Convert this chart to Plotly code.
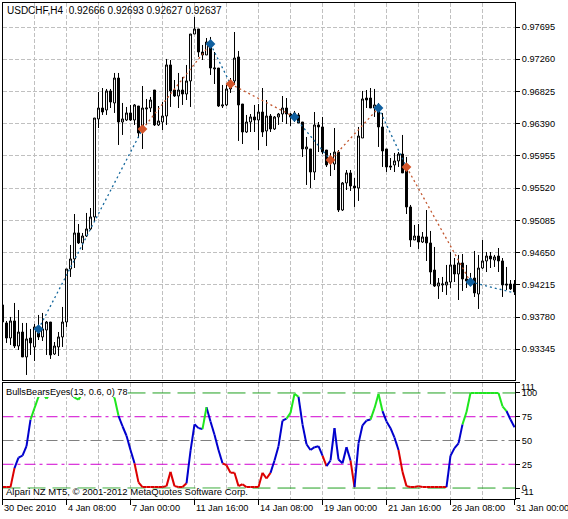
import numpy as np
import plotly.graph_objects as go

W, H = 568, 519

# candle values, in points (price x 100000)
open_pts = [93943,93700,93497,93727,93389,93578,93241,93497,93376,93565,
93511,93605,93713,93281,93376,93511,93713,94429,94564,94915,
94780,94874,94969,95131,96454,96602,96575,96832,96670,97007,
96413,96440,96535,96440,96629,96332,96589,96602,96845,96373,
96413,96494,97183,96845,96764,96845,96791,96967,97601,97669,
97358,97318,97493,97129,97142,96629,96643,96899,96967,97291,
96656,96278,96413,96481,96440,96548,96292,96494,96319,96481,
96521,96602,96521,96535,96508,96413,96049,96049,95738,96373,
96346,96035,95873,95846,96008,95225,95590,95725,95549,95522,
96197,96737,96737,96602,96602,96346,96049,95819,95833,95887,
95981,95806,95266,94820,94874,94793,94861,94780,94415,94199,
94213,94213,94253,94483,94361,94510,94294,94294,94307,94091,
94442,94537,94604,94550,94604,94537,94226,94226,94226]
high_pts = [93970,93727,93781,93970,93875,93700,93700,93619,93686,93808,
93835,93727,93713,93443,93578,93916,94429,94753,95171,95036,
94915,95185,95252,96467,96818,96872,96859,96859,97075,97075,
96670,96616,96643,96656,96629,96899,96724,96751,96845,96629,
96683,97264,97250,96980,97075,97021,97183,97601,97831,97669,
97453,97547,97561,97358,97142,96913,96913,97007,97628,97372,
96656,96508,96521,96643,96656,96872,96710,96521,96494,96535,
96764,96737,96535,96562,96535,96413,96211,96049,96548,96413,
96481,96035,95995,96332,96035,95603,95765,95765,95657,96346,
96832,96845,96872,96859,96670,96535,96049,95927,95995,96008,
96238,95941,95293,95023,95036,94928,95225,94942,94726,94307,
94321,94483,94658,94577,94618,94631,94483,94375,94672,94618,
94820,94658,94658,94618,94712,94577,94456,94280,94280]
low_pts = [93673,93430,93403,93362,93335,93241,92998,93268,93187,93470,
93457,93268,93214,93268,93254,93376,93646,94321,94442,94766,
94685,94861,94955,95077,96332,96508,96508,96602,96535,96103,
96238,96427,96427,96373,96197,96049,96373,96548,96359,96359,
96305,96373,96616,96751,96602,96643,96710,96616,97601,97291,
97250,97318,97048,96926,96616,96602,96629,96805,96913,96157,
96116,96265,96278,96278,96035,96211,96089,96278,96305,96373,
96413,96386,96359,96413,96400,95941,95563,95522,95630,96008,
95981,95806,95684,95765,95198,95212,95495,95482,95266,95347,
96197,96602,96602,96481,96076,95806,95738,95765,95738,95806,
95725,95171,94726,94820,94699,94780,94537,94226,94186,94024,
94118,94078,94172,94253,94010,94132,94172,94199,94051,93889,
94429,94388,94442,94456,94388,94051,94145,94145,94078]
close_pts = [93713,93497,93727,93389,93578,93241,93484,93430,93646,93511,
93619,93713,93268,93389,93511,93713,94429,94564,94915,94780,
94874,94969,95131,96467,96602,96548,96832,96683,97007,96413,
96454,96535,96440,96643,96265,96602,96602,96710,96373,96427,
96494,97183,96832,96764,96845,96791,96967,97601,97669,97358,
97318,97493,97142,97142,96629,96643,96859,96859,97277,96643,
96278,96413,96481,96440,96548,96278,96494,96319,96481,96521,
96602,96521,96481,96467,96400,96049,96076,95738,96373,96346,
96008,95833,95927,96008,95225,95590,95725,95549,95522,96224,
96724,96710,96602,96643,96346,96022,95806,95806,95887,95981,
95725,95266,94820,94874,94793,94861,94780,94388,94199,94240,
94226,94253,94483,94361,94510,94294,94267,94253,94105,94442,
94537,94604,94564,94591,94537,94213,94213,94159,94118]

# swing line: bar index, points, and marker kind
swing_bar = [9, 35, 52, 57, 73, 82, 94, 101, 117, 128]
swing_pts = [93618, 96318, 97466, 96926, 96480, 95900, 96602, 95805, 94253, 94105]

# oscillator values per bar
bbe_values = [1,1,1,21,32,34,44,72,84,96,
100,94,100,100,100,100,100,100,95,93,
100,100,100,100,100,100,100,100,95,76,
65,55,40,26,6,1,1,1,1,1,
1,2,17,2,1,1,5,39,67,63,
62,85,70,56,40,26,24,16,16,2,
4,1,1,1,1,16,10,16,29,44,
71,73,79,99,96,67,46,40,43,44,
34,23,29,63,30,26,43,29,1,47,
66,71,72,84,99,81,70,63,53,40,
17,2,1,1,2,1,1,1,1,1,
1,1,34,42,47,67,80,100,100,100,
100,100,100,100,100,86,81,72,64]

price_ticks = ["0.97695","0.97260","0.96825","0.96390","0.95955","0.95520","0.95085","0.94650","0.94215","0.93780","0.93345"]
bbe_ticks = [100, 75, 50, 25, 0]
date_labels = ["30 Dec 2010","4 Jan 08:00","7 Jan 00:00","11 Jan 16:00","14 Jan 08:00","19 Jan 00:00","21 Jan 16:00","26 Jan 08:00","31 Jan 00:00"]
date_bars = [0, 16, 32, 48, 64, 80, 96, 112, 128]
grid_bars = list(range(8, 129, 8))

header = "USDCHF,H4  0.92666 0.92693 0.92627 0.92637"
ind_title = "BullsBearsEyes(13, 0.6, 0) 78"
copyright_text = "Alpari NZ MT5, \u00a9 2001-2012 MetaQuotes Software Corp."

FONT = "Liberation Sans, sans-serif"
BLUE_D, ORANGE_D = "#14679c", "#c2562e"
BLUE_M, ORANGE_M = "#0f5f9f", "#d4552a"
GRID = "#c0c0c0"

bars = np.arange(len(open_pts))
XR = [0, 512.5 / 4]
fig = go.Figure()

fig.add_trace(go.Candlestick(
    x=bars, open=np.array(open_pts) / 1e5, high=np.array(high_pts) / 1e5,
    low=np.array(low_pts) / 1e5, close=np.array(close_pts) / 1e5,
    increasing=dict(line=dict(color="black", width=1), fillcolor="white"),
    decreasing=dict(line=dict(color="black", width=1), fillcolor="black"),
    whiskerwidth=0, xaxis="x", yaxis="y", hoverinfo="skip", showlegend=False))

sb, sp = swing_bar, np.array(swing_pts) / 1e5
for k in range(len(sb) - 1):
    fig.add_trace(go.Scatter(
        x=[sb[k], sb[k + 1]], y=[sp[k], sp[k + 1]], mode="lines",
        line=dict(color=BLUE_D if k % 2 == 0 else ORANGE_D, width=1.3, dash="2px,3px"),
        xaxis="x", yaxis="y", hoverinfo="skip", showlegend=False))
fig.add_trace(go.Scatter(
    x=sb[:-1], y=sp[:-1], mode="markers",
    marker=dict(symbol="diamond", size=7.5,
                color=[BLUE_M if k % 2 == 0 else ORANGE_M for k in range(len(sb) - 1)],
                line=dict(width=0)),
    xaxis="x", yaxis="y", hoverinfo="skip", showlegend=False))

# levels
level_styles = [(100, "#20a020", "18px,7px"), (75, "#d000d0", "11px,4px,3px,4px"),
                (50, "#808080", "11px,4px,3px,4px"), (25, "#d000d0", "11px,4px,3px,4px"),
                (0, "#20a020", "18px,7px")]
for lv, col, ds in level_styles:
    fig.add_trace(go.Scatter(
        x=XR, y=[lv, lv], mode="lines", line=dict(color=col, width=1, dash=ds),
        xaxis="x2", yaxis="y2", hoverinfo="skip", showlegend=False))

# coloured oscillator: a segment takes the zone of its end bar
vals = np.array(bbe_values, dtype=float)
zones = {"#dc0000": vals < 25, "#0000cd": (vals >= 25) & (vals < 75), "#1ee61e": vals >= 75}
for col, mask in zones.items():
    xs, ys = [], []
    for i in range(1, len(vals)):
        if mask[i]:
            xs += [bars[i - 1], bars[i], None]
            ys += [vals[i - 1], vals[i], None]
    fig.add_trace(go.Scatter(
        x=xs, y=ys, mode="lines", line=dict(color=col, width=2),
        xaxis="x2", yaxis="y2", hoverinfo="skip", showlegend=False))

DOMX = [2.5 / W, 515 / W]
axis_common = dict(showline=True, linecolor="black", linewidth=1, mirror=True, zeroline=False)
grid_common = dict(showgrid=True, gridcolor=GRID, gridwidth=1, griddash="4px,2px")
tick_font = dict(family=FONT, size=9.2, color="black")


def px_y(y):
    return 1 - y / H


def label(text, x_px, y_px, size):
    return dict(text=text, x=x_px / W, y=px_y(y_px), xref="paper", yref="paper", xanchor="left",
                yanchor="middle", showarrow=False, font=dict(family=FONT, size=size, color="black"),
                borderpad=0)


anns = [
    label(header, 5.5, 11, 10),
    label(ind_title, 4.5, 391.5, 9.2),
    label(copyright_text, 4.5, 491.5, 9.5),
    label("111", 520, 387, 9.2),
    label("-11", 520, 492, 9.2),
]
for lab, b in zip(date_labels, date_bars):
    anns.append(dict(text=lab, x=b, xref="x2", y=px_y(507.5), yref="paper", xanchor="left", yanchor="middle",
                     showarrow=False, font=tick_font, borderpad=0))

# opaque label backgrounds of the indicator pane
mask_boxes = [(3, 128, 383, 397), (3, 247, 488.8, 497.8)]
shapes = [dict(type="rect", xref="paper", yref="paper", x0=a / W, x1=b / W, y0=px_y(d), y1=px_y(c),
               fillcolor="white", line=dict(width=0), layer="above") for a, b, c, d in mask_boxes]

pvals = [float(t) for t in price_ticks]
fig.update_layout(
    width=W, height=H, margin=dict(l=0, r=0, t=0, b=0, pad=0), autosize=False,
    paper_bgcolor="white", plot_bgcolor="white", showlegend=False, hovermode=False,
    annotations=anns, shapes=shapes,
    xaxis=dict(domain=DOMX, anchor="y", range=XR, tickvals=grid_bars, ticks="", showticklabels=False,
               rangeslider=dict(visible=False), **axis_common, **grid_common),
    yaxis=dict(domain=[px_y(380), px_y(3)], anchor="x", side="right",
               range=[0.92930, 0.980195], tickvals=pvals, ticktext=price_ticks, ticks="outside",
               ticklen=4, tickcolor="black", tickfont=tick_font, **axis_common, **grid_common),
    xaxis2=dict(domain=DOMX, anchor="y2", range=XR, tickvals=date_bars, ticks="outside", ticklen=5,
                tickcolor="black", showticklabels=False, **axis_common, **grid_common,
                minor=dict(tickvals=grid_bars, ticks="", showgrid=True, gridcolor=GRID, griddash="4px,2px")),
    yaxis2=dict(domain=[px_y(498.5), px_y(382.5)], anchor="x2", side="right",
                range=[-11, 111], tickvals=bbe_ticks + [111, -11],
                ticktext=[str(v) for v in bbe_ticks] + ["", ""], ticks="outside", ticklen=4,
                tickcolor="black", tickfont=tick_font, showgrid=False, **axis_common),
)

fig.write_html("out.html", config=dict(displayModeBar=False),
               post_script="document.body.style.margin='0';document.body.style.overflow='hidden';")
